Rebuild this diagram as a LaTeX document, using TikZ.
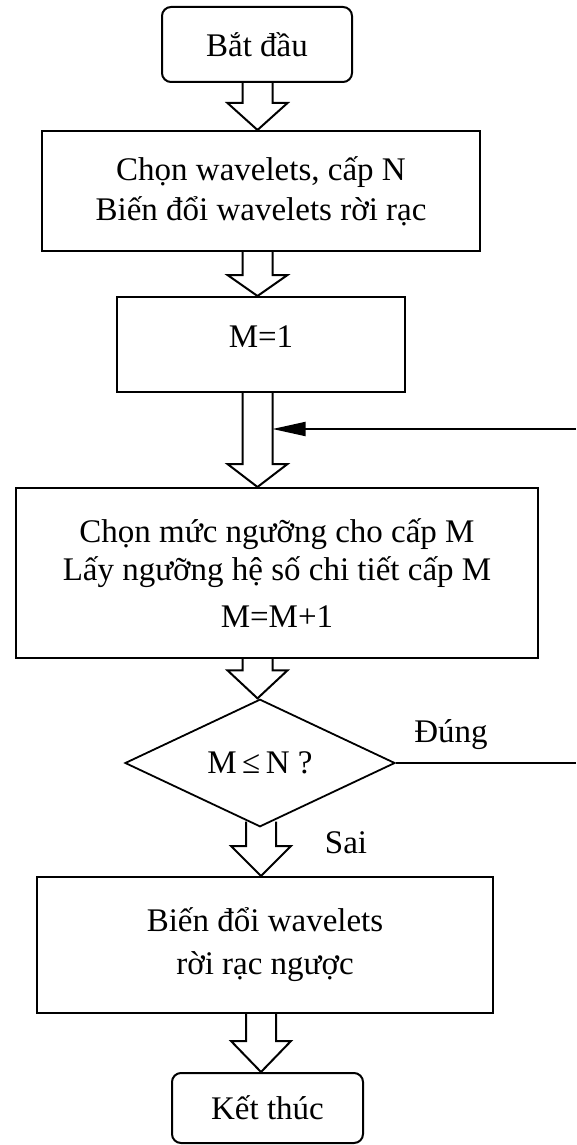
\documentclass[tikz,border=0pt]{standalone}
\usepackage{fontspec}
\setmainfont{Liberation Serif}
\usetikzlibrary{shapes.geometric,arrows.meta,calc}
\newcommand\fsz{\fontsize{33}{40}\selectfont}
\tikzset{
  box/.style={draw=black, line width=2pt, inner sep=0pt, align=center, font=\fsz},
  term/.style={box, rounded corners=9pt},
  decision/.style={draw=black, line width=1.8pt, shape=diamond, inner sep=0pt,
    minimum width=270pt, minimum height=110pt, font=\fsz},
  txt/.style={inner sep=0pt, font=\fsz},
  blockarrow/.style={draw=black, line width=2pt, line join=miter},
  link/.style={draw=black, line width=1.8pt}
}
% hollow block arrow pointing down:
% #1 start anchor, #2 end anchor, #3 column, #4 head length, #5 start offset
\newcommand\hollowdown[5]{%
  \draw[blockarrow] ($(#3 |- #1)+(-15,#5)$) -- ($(#3 |- #2)+(-15,-#4)$)
    -- ($(#3 |- #2)+(-30,-#4)$) -- (#3 |- #2) -- ($(#3 |- #2)+(30,-#4)$)
    -- ($(#3 |- #2)+(15,-#4)$) -- ($(#3 |- #1)+(15,#5)$);}
\begin{document}
\begin{tikzpicture}[x=1pt,y=-1pt]
\useasboundingbox (0,0) rectangle (576,1145);
\fill[white] (0,0) rectangle (576,1145);

\coordinate (colA) at (257.5,0);
\coordinate (colB) at (261,0);

% steps of the procedure
\node[term, minimum width=190pt, minimum height=75pt] (start) at (257,44.5) {Bắt đầu};
\node[box, minimum width=438pt, minimum height=120pt] (init) at (261,191)
  {Chọn wavelets, cấp N\\Biến đổi wavelets rời rạc};
\node[box, minimum width=288pt, minimum height=95pt] (setm) at (261,344.5) {};
\node[txt] (setmtext) at (261,337) {M=1};
\node[box, minimum width=522pt, minimum height=170pt] (thresh) at (277,573)
  {Chọn mức ngưỡng cho cấp M\\[-2pt]Lấy ngưỡng hệ số chi tiết cấp M\\[7pt]M=M+1};
\node[decision] (test) at (260,763) {M\,≤\,N ?};
\node[box, minimum width=456pt, minimum height=136pt] (inverse) at (265,945)
  {Biến đổi wavelets\\[3pt]rời rạc ngược};
\node[term, minimum width=191pt, minimum height=70pt] (stop) at (267.5,1108) {Kết thúc};

% branch labels
\node[txt, anchor=base] (yes) at (451,742) {Đúng};
\node[txt, anchor=base] (no) at (346,853) {Sai};

% flow arrows
\hollowdown{start.south}{init.north}{colA}{27}{0}
\hollowdown{init.south}{setm.north}{colA}{21}{0}
\hollowdown{setm.south}{thresh.north}{colA}{23}{0}
\hollowdown{thresh.south}{test.north}{colA}{28}{0}
\hollowdown{test.south}{inverse.north}{colB}{30}{-6}
\hollowdown{inverse.south}{stop.north}{colB}{31}{0}

% loop back for the next level
\coordinate (yesout) at (576,763);
\coordinate (loopin) at (576,429);
\coordinate (looptip) at ($(colA |- loopin)+(15,0)$);
\draw[link] (test.east) -- (yesout);
\draw[link, -{Triangle[length=33pt,width=14pt]}] (loopin) -- (looptip);
\end{tikzpicture}
\end{document}
